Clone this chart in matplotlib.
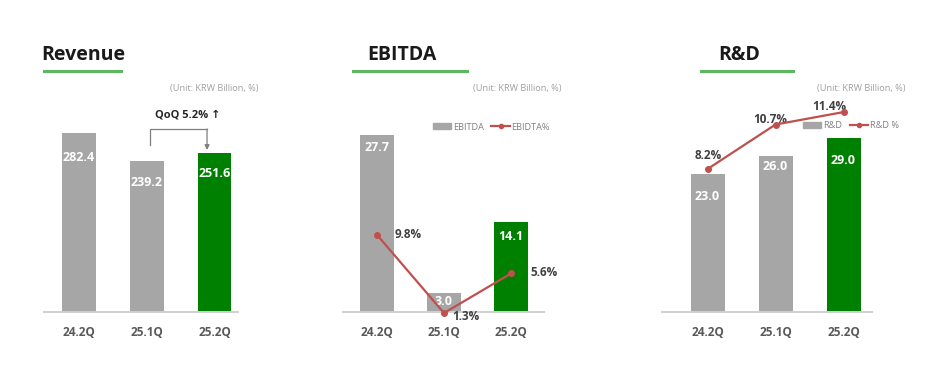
import matplotlib
matplotlib.use("Agg")
import matplotlib.pyplot as plt
from matplotlib.lines import Line2D
from matplotlib.patches import Patch

# ---------------- data ----------------
quarters = ["24.2Q", "25.1Q", "25.2Q"]
revenue = [282.4, 239.2, 251.6]
ebitda = [27.7, 3.0, 14.1]
ebitda_pct = [9.8, 1.3, 5.6]
rnd = [23.0, 26.0, 29.0]
rnd_pct = [8.2, 10.7, 11.4]
qoq_text = "QoQ 5.2% \u2191"
unit_text = "(Unit: KRW Billion, %)"

# ---------------- style ----------------
W, H, DPI = 946, 378, 100
GRAY = "#A6A6A6"
GREEN = "#008000"
RED = "#C0504D"
ULINE = "#5DB760"
AXLINE = "#D0D0D0"
TICKC = "#595959"
FONT = ["Open Sans", "DejaVu Sans"]
plt.rcParams["font.family"] = FONT

fig = plt.figure(figsize=(W / DPI, H / DPI), dpi=DPI)
fig.patch.set_facecolor("white")

def fx(x):
    return x / W

def fy(y):
    return 1 - y / H

def px_axes(left, right, top, bottom):
    return fig.add_axes([fx(left), fy(bottom), (right - left) / W, (bottom - top) / H])

def title(text, x, y, ul0, ul1, uly):
    fig.text(fx(x), fy(y), text, fontsize=14, fontweight="bold", color="#1A1A1A",
             ha="left", va="center")
    fig.add_artist(Line2D([fx(ul0), fx(ul1)], [fy(uly), fy(uly)], color=ULINE, lw=2.2))

def unit(xr, y):
    fig.text(fx(xr), fy(y), unit_text, fontsize=6.6, color="#A0A0A0", ha="right", va="center")

def setup_bar_axes(ax, centers_px, left, right, top, bottom, px_per_unit, values, offsets):
    sp = (centers_px[-1] - centers_px[0]) / (len(centers_px) - 1)
    ax.set_xlim(-(centers_px[0] - left) / sp, len(centers_px) - 1 + (right - centers_px[-1]) / sp)
    ax.set_ylim(0, (bottom - top) / px_per_unit)
    colors = [GRAY] * (len(values) - 1) + [GREEN]
    x = list(range(len(values)))
    ax.bar(x, values, width=0.5, color=colors, zorder=2)
    for xi, v, off in zip(x, values, offsets):
        ax.annotate(f"{v:.1f}", (xi, v), xytext=(0, -off * 72 / DPI), textcoords="offset points",
                    ha="center", va="center", color="white", fontsize=9, fontweight="bold", zorder=5)
    ax.set_xticks(x)
    ax.set_xticklabels(quarters, fontsize=8.5, fontweight="bold", color=TICKC)
    ax.tick_params(axis="x", length=0, pad=10)
    ax.set_yticks([])
    for s in ["top", "left", "right"]:
        ax.spines[s].set_visible(False)
    ax.spines["bottom"].set_color(AXLINE)
    ax.spines["bottom"].set_linewidth(1.4)
    ax.patch.set_alpha(0)
    return sp

def legend(ax, labels, x, y):
    ax.legend(handles=[Patch(color=GRAY, label=labels[0]),
                       Line2D([], [], color=RED, lw=1.6, marker="o", ms=3, label=labels[1])],
              loc="center left", bbox_to_anchor=(fx(x), fy(y)), bbox_transform=fig.transFigure,
              ncol=2, frameon=False, fontsize=6.6, labelcolor="#7F7F7F", handlelength=2.0,
              handleheight=0.55, handletextpad=0.2, columnspacing=0.8, borderpad=0,
              borderaxespad=0)

# ---------------- Revenue ----------------
title("Revenue", 41, 55, 44, 121, 71)
unit(259, 88)
ax1 = px_axes(44, 238, 90, 312)
setup_bar_axes(ax1, [79, 146.5, 214.5], 44, 238, 90, 312, 0.633, revenue, [24, 22, 21])
ppu = 0.633
def ry(ypx):
    return (312 - ypx) / ppu
ax1.plot([1.05, 1.05, 1.89], [ry(145), ry(129), ry(129)], color="#7F7F7F", lw=0.9, clip_on=False)
ax1.annotate("", xy=(1.89, ry(150)), xytext=(1.89, ry(129)),
             arrowprops=dict(arrowstyle="-|>", color="#7F7F7F", lw=0.9, mutation_scale=7,
                             shrinkA=0, shrinkB=0), annotation_clip=False)
ax1.text(1.6, ry(115), qoq_text, ha="center", va="center", fontsize=8, fontweight="bold",
         color="#262626", family=FONT)

# ---------------- EBITDA ----------------
title("EBITDA", 367, 55, 353, 467, 71)
unit(561, 88)
ax2 = px_axes(343, 544, 90, 312)
setup_bar_axes(ax2, [377, 443.5, 511], 343, 544, 90, 312, 6.4, ebitda, [13, 9, 15])
ax2b = ax2.twinx()
ax2b.set_ylim((325 - 312) / 9.2, (325 - 90) / 9.2)
ax2b.plot(range(3), ebitda_pct, color=RED, lw=1.6, marker="o", ms=4, clip_on=False, zorder=4)
ax2b.axis("off")
for xi, v, (dx, dy) in zip(range(3), ebitda_pct, [(18, 0), (8, -3), (19, 1)]):
    ax2b.annotate(f"{v:.1f}%", (xi, v), xytext=(dx * 72 / DPI, dy * 72 / DPI),
                  textcoords="offset points", ha="left", va="center", fontsize=8.5,
                  fontweight="bold", color="#404040", annotation_clip=False)
legend(ax2, ["EBITDA", "EBIDTA%"], 433, 127)

# ---------------- R&D ----------------
title("R&D", 718, 55, 701, 793, 71)
unit(905, 88)
ax3 = px_axes(662, 872, 90, 312)
setup_bar_axes(ax3, [707.5, 775, 843.5], 662, 872, 90, 312, 6.0, rnd, [23, 11, 22])
ax3b = ax3.twinx()
ax3b.set_ylim((315 - 312) / 17.8, (315 - 90) / 17.8)
ax3b.plot(range(3), rnd_pct, color=RED, lw=1.6, marker="o", ms=4, clip_on=False, zorder=4)
ax3b.axis("off")
for xi, v, (dx, dy) in zip(range(3), rnd_pct, [(1, 14), (-5, 5), (-14, 6)]):
    ax3b.annotate(f"{v:.1f}%", (xi, v), xytext=(dx * 72 / DPI, dy * 72 / DPI),
                  textcoords="offset points", ha="center", va="center", fontsize=8.5,
                  fontweight="bold", color="#404040", annotation_clip=False)
legend(ax3, ["R&D", "R&D %"], 803, 126)

fig.savefig("out.png", dpi=DPI, facecolor="white")
